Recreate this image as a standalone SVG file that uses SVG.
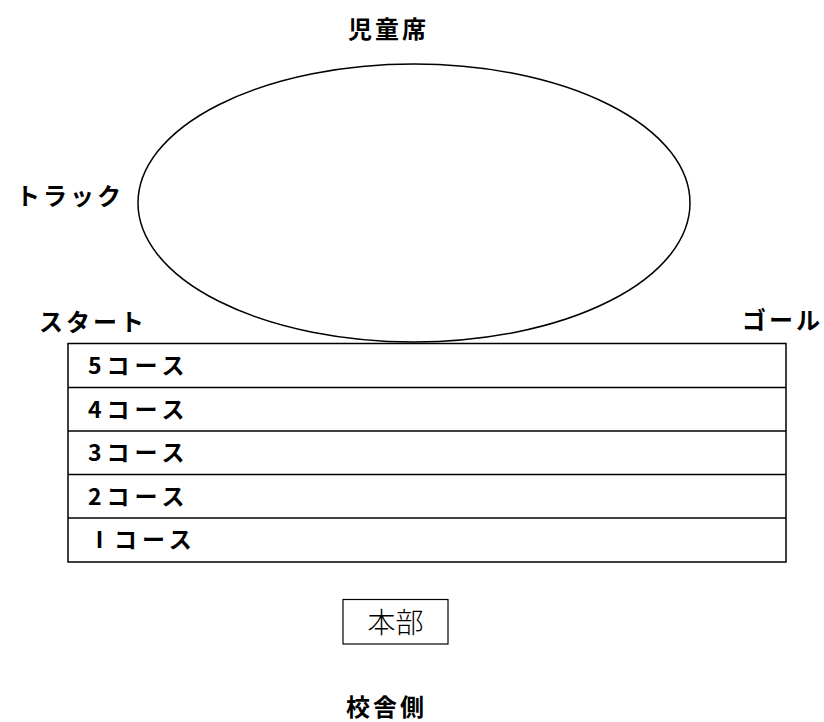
<svg xmlns="http://www.w3.org/2000/svg" width="824" height="722" viewBox="0 0 824 722">
<style>
.lbl{font-family:"Noto Sans CJK JP","Noto Sans CJK SC",sans-serif;font-weight:bold;font-size:24px;fill:#000;letter-spacing:3px}
.crs{font-family:"Noto Sans CJK JP","Noto Sans CJK SC",sans-serif;font-weight:bold;font-size:23px;fill:#000;letter-spacing:5px}
.ln{fill:none;stroke:#000;stroke-width:1.5}
</style>
<rect width="824" height="722" fill="#fff"/>
<g id="track">
<ellipse class="ln" cx="414" cy="203" rx="276" ry="139"/>
</g>
<g id="courses">
<rect class="ln" x="68" y="343.5" width="718" height="218.5"/>
<line class="ln" x1="68" y1="387.5" x2="786" y2="387.5"/>
<line class="ln" x1="68" y1="431" x2="786" y2="431"/>
<line class="ln" x1="68" y1="474.5" x2="786" y2="474.5"/>
<line class="ln" x1="68" y1="518" x2="786" y2="518"/>
<text class="crs" x="88" y="374">5コース</text>
<text class="crs" x="88" y="418">4コース</text>
<text class="crs" x="88" y="461">3コース</text>
<text class="crs" x="88" y="505">2コース</text>
<text class="crs" x="88" y="548" letter-spacing="0">Ⅰ</text>
<text class="crs" x="114" y="548">コース</text>
</g>
<g id="honbu">
<rect x="343" y="599.5" width="105" height="44.5" fill="none" stroke="#000" stroke-width="1.2"/>
<text x="395.5" y="633" text-anchor="middle" font-family="Noto Sans CJK JP, sans-serif" font-weight="300" font-size="28px">本部</text>
</g>
<text class="lbl" x="348" y="38">児童席</text>
<text class="lbl" x="16" y="205">トラック</text>
<text class="lbl" x="39" y="331">スタート</text>
<text class="lbl" x="742" y="329">ゴール</text>
<text class="lbl" x="346" y="716">校舎側</text>
</svg>
